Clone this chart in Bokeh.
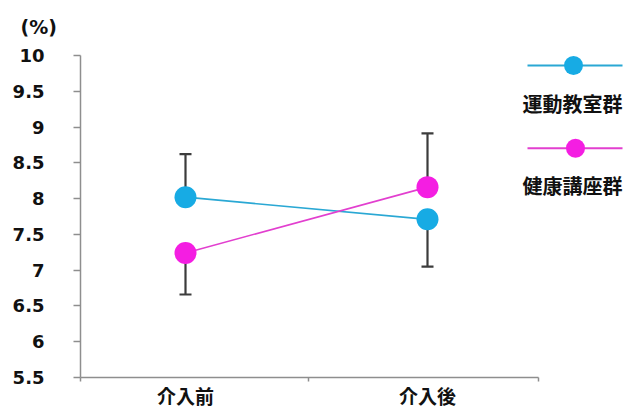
from bokeh.plotting import figure
from bokeh.models import Range1d, FixedTicker, Title
from bokeh.core.properties import value
from bokeh.embed import file_html
from bokeh.resources import INLINE

# ---- data ----
categories = ["介入前", "介入後"]
series_names = ["運動教室群", "健康講座群"]
exercise = [8.02, 7.71]
health = [7.24, 8.16]
exercise_err_end = [8.62, 7.05]
health_err_end = [6.66, 8.91]
y_ticks = [5.5, 6, 6.5, 7, 7.5, 8, 8.5, 9, 9.5, 10]
y_tick_labels = ["5.5", "6", "6.5", "7", "7.5", "8", "8.5", "9", "9.5", "10"]
unit_label = "(%)"

# ---- layout constants (pixels on the canvas) ----
W, H = 635, 411
FRAME_L, FRAME_R, FRAME_T, FRAME_B = 80, 635, 40, 378
X0_PX, X_UNIT = 185, 242.0          # pixel of first category, px per category
Y_UNIT = 71.78                      # px per 1.0 on y
AXIS_END_PX = 538
MID_TICK_PX = 308

def px2x(px):
    return (px - X0_PX) / X_UNIT

def py2y(py):
    return y_ticks[0] + (FRAME_B - py) / Y_UNIT

x_start, x_end = px2x(FRAME_L), px2x(FRAME_R)
y_start, y_end = y_ticks[0], py2y(FRAME_T)

xs = list(range(len(categories)))

CYAN_M, CYAN_L = "#17ABE4", "#2AA8D4"
PINK_M, PINK_L = "#F41EE2", "#E23FCF"
ERR = "#3C3C3C"
AXIS_C = "#8E8E8E"
NUM_FONT = "DejaVu Sans"
CJK_FONT = "Noto Sans CJK JP"

p = figure(width=W, height=H, output_backend="svg", toolbar_location=None,
           x_range=Range1d(x_start, x_end), y_range=Range1d(y_start, y_end),
           min_border_left=FRAME_L, min_border_right=W - FRAME_R,
           min_border_top=FRAME_T, min_border_bottom=H - FRAME_B, title=None)
p.outline_line_color = None
p.xgrid.visible = False
p.ygrid.visible = False
p.background_fill_color = "white"
p.border_fill_color = "white"

p.add_layout(Title(text=unit_label, align="left", offset=-(FRAME_L - 20),
                   text_font=NUM_FONT, text_font_style="bold",
                   text_font_size="19px", text_color="#111111",
                   standoff=5), "above")

# y axis
ya = p.yaxis[0]
ya.ticker = FixedTicker(ticks=y_ticks, minor_ticks=[])
ya.major_label_overrides = {(int(t) if float(t).is_integer() else t): l
                            for t, l in zip(y_ticks, y_tick_labels)}
ya.bounds = (y_ticks[0], y_ticks[-1])
ya.axis_line_color = AXIS_C
ya.axis_line_width = 1.5
ya.major_tick_line_color = AXIS_C
ya.major_tick_line_width = 1.5
ya.major_tick_out = 7
ya.major_tick_in = 0
ya.major_label_standoff = 29
ya.major_label_text_font = NUM_FONT
ya.major_label_text_font_style = "bold"
ya.major_label_text_font_size = "18px"
ya.major_label_text_color = "#111111"

# x axis: category names at the points, small ticks between
xa = p.xaxis[0]
axis_end = px2x(AXIS_END_PX)
xa.ticker = FixedTicker(ticks=xs, minor_ticks=[x_start, px2x(MID_TICK_PX), axis_end])
xa.major_label_overrides = {i: c for i, c in zip(xs, categories)}
xa.bounds = (x_start, axis_end)
xa.axis_line_color = AXIS_C
xa.axis_line_width = 1.5
xa.minor_tick_line_color = AXIS_C
xa.minor_tick_line_width = 1.5
xa.minor_tick_out = 4
xa.minor_tick_in = 0
xa.major_tick_out = 0
xa.major_tick_in = 0
xa.major_label_standoff = 0
xa.major_label_text_font = CJK_FONT
xa.major_label_text_font_style = "bold"
xa.major_label_text_font_size = "19px"
xa.major_label_text_color = "#111111"

# error bars
for vals, ends in ((exercise, exercise_err_end), (health, health_err_end)):
    p.segment(x0=xs, y0=vals, x1=xs, y1=ends, line_color=ERR, line_width=2.2)
    p.scatter(x=xs, y=ends, marker="dash", size=12, line_color=ERR, line_width=2.2)

# series lines and markers
p.line(xs, exercise, line_color=CYAN_L, line_width=1.6)
p.line(xs, health, line_color=PINK_L, line_width=1.6)
p.scatter(xs, exercise, size=22, fill_color=CYAN_M, line_color=None)
p.scatter(xs, health, size=22, fill_color=PINK_M, line_color=None)

# legend (manual: line with marker, name underneath)
legend_rows = [(series_names[0], CYAN_M, CYAN_L, 65, 573, 103),
               (series_names[1], PINK_M, PINK_L, 148, 575, 185)]
for name, mc, lc, ly, mx, ty in legend_rows:
    p.line([px2x(527), px2x(622)], [py2y(ly), py2y(ly)], line_color=lc, line_width=2)
    p.scatter([px2x(mx)], [py2y(ly)], size=19, fill_color=mc, line_color=None)
    p.text(x=[px2x(572)], y=[py2y(ty)], text=[name], text_align="center",
           text_baseline="middle", text_font=value(CJK_FONT),
           text_font_style="bold", text_font_size="20px", text_color="#111111")

open("out.html", "w").write(file_html(p, INLINE))
